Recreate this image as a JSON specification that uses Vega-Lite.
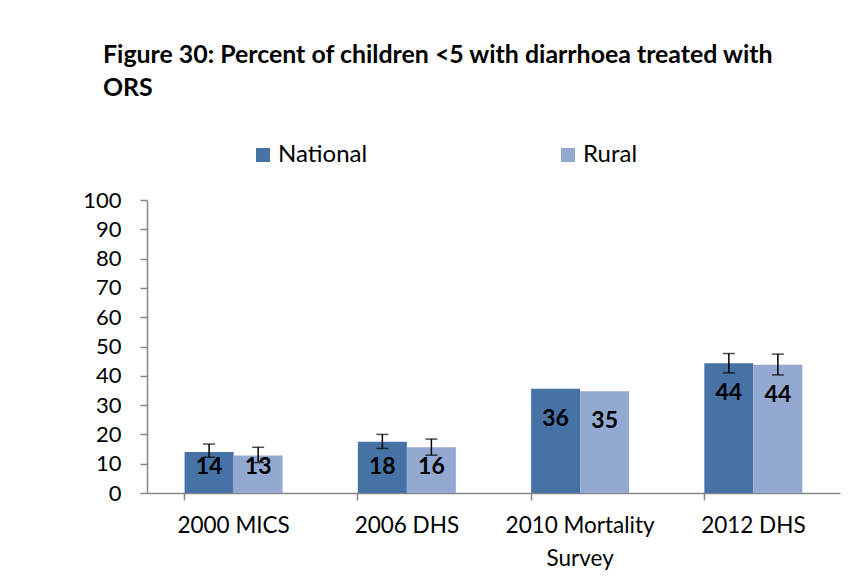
{
  "$schema": "https://vega.github.io/schema/vega-lite/v6.json",
  "width": 693,
  "height": 293,
  "autosize": {"type": "none"},
  "padding": {"left": 147, "top": 200, "right": 18, "bottom": 90},
  "background": "white",
  "title": {
    "text": ["Figure 30: Percent of children <5 with diarrhoea treated with", "ORS"],
    "anchor": "start",
    "frame": "group",
    "orient": "top",
    "dx": -44,
    "offset": 42,
    "font": "Lato",
    "fontSize": 24.9,
    "fontWeight": "bold",
    "color": "#000000",
    "lineHeight": 33
  },
  "data": {
    "values": [
      {"survey": "2000 MICS", "group": "National", "value": 14.0, "lo": 12.2, "hi": 16.7},
      {"survey": "2000 MICS", "group": "Rural", "value": 12.8, "lo": 10.4, "hi": 15.6},
      {"survey": "2006 DHS", "group": "National", "value": 17.5, "lo": 15.2, "hi": 20.0},
      {"survey": "2006 DHS", "group": "Rural", "value": 15.6, "lo": 12.9, "hi": 18.4},
      {"survey": "2010 Mortality Survey", "group": "National", "value": 35.6, "lo": null, "hi": null},
      {"survey": "2010 Mortality Survey", "group": "Rural", "value": 34.7, "lo": null, "hi": null},
      {"survey": "2012 DHS", "group": "National", "value": 44.3, "lo": 41.0, "hi": 47.6},
      {"survey": "2012 DHS", "group": "Rural", "value": 43.8, "lo": 40.3, "hi": 47.4}
    ]
  },
  "encoding": {
    "x": {
      "field": "survey",
      "type": "nominal",
      "sort": null,
      "scale": {"paddingInner": 0.434, "paddingOuter": 0.217},
      "axis": {
        "title": null,
        "labelAngle": 0,
        "labelLineHeight": 33,
        "labelExpr": "datum.label == '2010 Mortality Survey' ? ['2010 Mortality', 'Survey'] : datum.label",
        "bandPosition": 0
      }
    },
    "xOffset": {"field": "group", "type": "nominal", "scale": {"paddingInner": 0, "paddingOuter": 0}}
  },
  "layer": [
    {
      "mark": {"type": "bar"},
      "encoding": {
        "y": {
          "field": "value",
          "type": "quantitative",
          "scale": {"domain": [0, 100], "nice": false},
          "axis": {"title": "Percent", "values": [0, 10, 20, 30, 40, 50, 60, 70, 80, 90, 100]}
        },
        "color": {
          "field": "group",
          "type": "nominal",
          "scale": {"domain": ["National", "Rural"], "range": ["#4672A6", "#94A9D2"]},
          "legend": {
            "title": null,
            "orient": "none",
            "legendX": 104,
            "legendY": -57,
            "direction": "horizontal",
            "symbolType": "square",
            "symbolSize": 196,
            "symbolStrokeWidth": 0,
            "labelFont": "Lato",
            "labelFontSize": 24,
            "labelColor": "#000000",
            "labelOffset": 3,
            "columnPadding": 188
          }
        }
      }
    },
    {
      "mark": {"type": "rule", "color": "#000000", "strokeWidth": 1.5},
      "transform": [{"filter": "datum.lo != null"}],
      "encoding": {
        "y": {"field": "lo", "type": "quantitative", "axis": {"title": null, "values": [0, 10, 20, 30, 40, 50, 60, 70, 80, 90, 100]}},
        "y2": {"field": "hi"}
      }
    },
    {
      "mark": {"type": "tick", "color": "#000000", "size": 12, "thickness": 1.5},
      "transform": [{"filter": "datum.lo != null"}],
      "encoding": {"y": {"field": "lo", "type": "quantitative", "axis": {"title": null, "values": [0, 10, 20, 30, 40, 50, 60, 70, 80, 90, 100]}}}
    },
    {
      "mark": {"type": "tick", "color": "#000000", "size": 12, "thickness": 1.5},
      "transform": [{"filter": "datum.hi != null"}],
      "encoding": {"y": {"field": "hi", "type": "quantitative", "axis": {"title": null, "values": [0, 10, 20, 30, 40, 50, 60, 70, 80, 90, 100]}}}
    },
    {
      "mark": {"type": "text", "font": "Lato", "fontSize": 23, "fontWeight": "bold", "color": "#000000", "baseline": "middle", "dy": 30},
      "transform": [{"filter": "datum.value >= 30"}],
      "encoding": {
        "y": {"field": "value", "type": "quantitative", "axis": {"title": null, "values": [0, 10, 20, 30, 40, 50, 60, 70, 80, 90, 100]}},
        "text": {"field": "value", "type": "quantitative", "format": ".0f"}
      }
    },
    {
      "mark": {"type": "text", "font": "Lato", "fontSize": 23, "fontWeight": "bold", "color": "#000000", "baseline": "middle"},
      "transform": [{"filter": "datum.value < 30"}],
      "encoding": {
        "y": {"datum": 9, "type": "quantitative", "axis": {"title": null, "values": [0, 10, 20, 30, 40, 50, 60, 70, 80, 90, 100]}},
        "text": {"field": "value", "type": "quantitative", "format": ".0f"}
      }
    }
  ],
  "config": {
    "view": {"stroke": null},
    "bar": {"stroke": null},
    "axis": {
      "grid": false,
      "labelFont": "Lato",
      "labelColor": "#000000",
      "labelOverlap": false,
      "tickSize": 7,
      "tickColor": "#868686",
      "domainColor": "#868686",
      "domainWidth": 1.5,
      "tickWidth": 1.5,
      "titleFont": "Lato",
      "titleColor": "#000000",
      "titleFontWeight": "bold"
    },
    "axisX": {"labelFontSize": 22.5, "labelPadding": 14},
    "axisY": {"labelFontSize": 22, "labelPadding": 19, "titleFontSize": 21, "titlePadding": 12}
  }
}
